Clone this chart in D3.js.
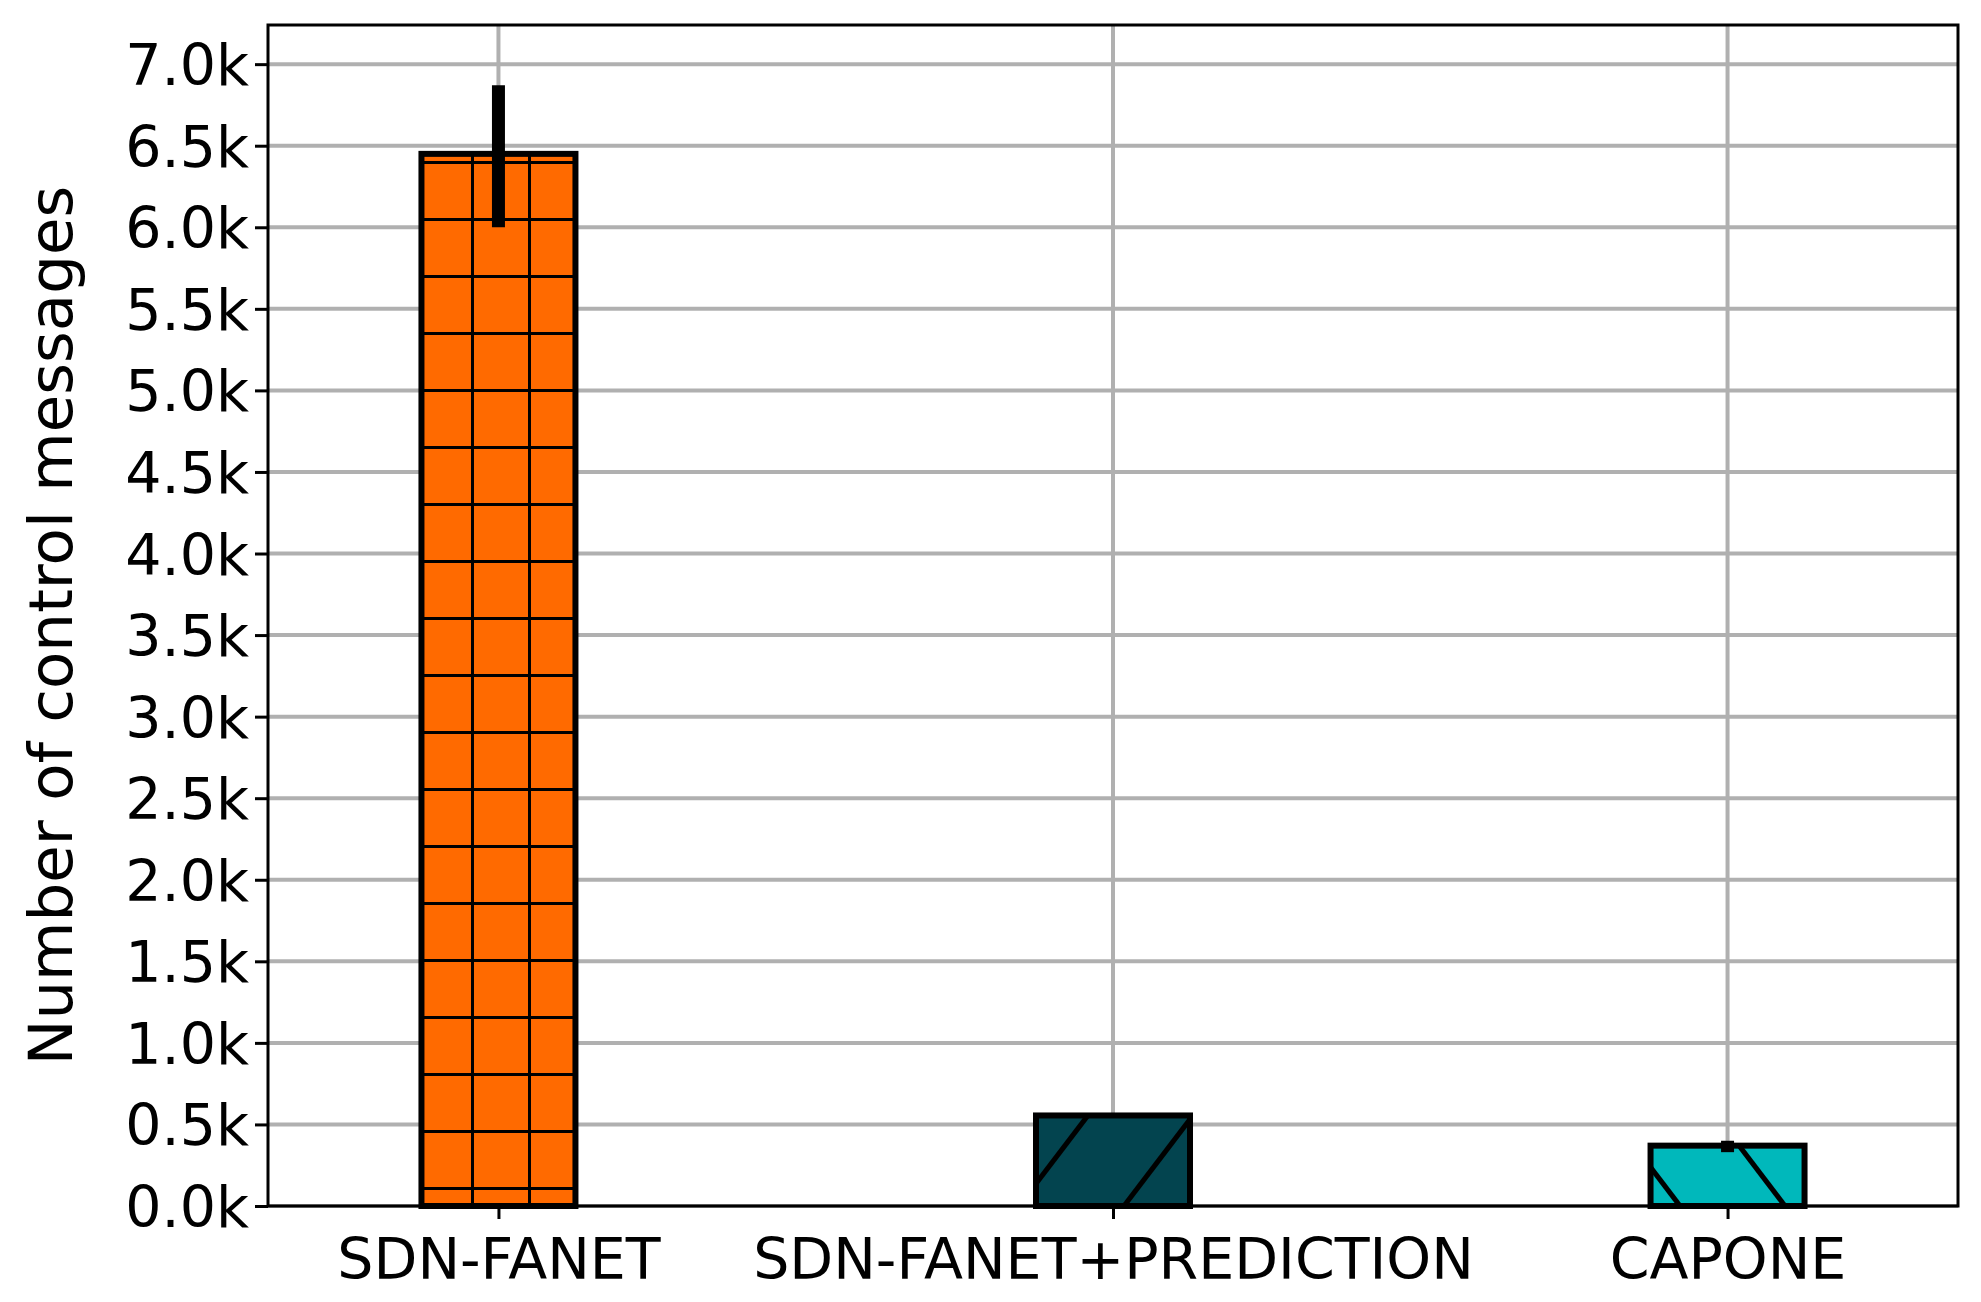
<!DOCTYPE html>
<html><head><meta charset="utf-8">
<script src="https://cdn.jsdelivr.net/npm/d3@7"></script>
<style>body{margin:0;background:#fff}</style></head>
<body><svg id="c" width="1981" height="1302"></svg>
<script>
const categories = ["SDN-FANET","SDN-FANET+PREDICTION","CAPONE"];
const values = [6450, 555, 370];
const errLow = [6000, 545, 330];
const errHigh = [6870, 560, 400];
const colors = ["#ff6a00","#03444f","#00b8bb"];
const yTicks = [0,500,1000,1500,2000,2500,3000,3500,4000,4500,5000,5500,6000,6500,7000];

const svg = d3.select("#c");
const L=268,R=1958,T=25,B=1206;
const x = d3.scaleLinear().domain([-0.375,2.375]).range([L,R]);
const y = d3.scaleLinear().domain([0,7240]).range([B,T]);
const bw = 154;

const defs = svg.append("defs");
const g=57;
const pg = defs.append("pattern").attr("id","grid").attr("patternUnits","userSpaceOnUse")
  .attr("width",g).attr("height",g).attr("x",471).attr("y",1187);
pg.append("rect").attr("width",g).attr("height",g).attr("fill",colors[0]);
pg.append("line").attr("x1",0).attr("x2",g).attr("y1",0).attr("y2",0).attr("stroke","#000").attr("stroke-width",6);
pg.append("line").attr("x1",0).attr("x2",0).attr("y1",0).attr("y2",g).attr("stroke","#000").attr("stroke-width",6);
function diag(id,col,dir,px){
  const w=105,h=138;
  const p=defs.append("pattern").attr("id",id).attr("patternUnits","userSpaceOnUse")
    .attr("width",w).attr("height",h).attr("x",px).attr("y",B);
  p.append("rect").attr("width",w).attr("height",h).attr("fill",col);
  const ln = dir>0 ? [0,h,w,0] : [0,0,w,h];
  [-w,0,w].forEach(o=>p.append("line").attr("x1",ln[0]+o).attr("y1",ln[1]).attr("x2",ln[2]+o).attr("y2",ln[3])
    .attr("stroke","#000").attr("stroke-width",5));
}
diag("d1",colors[1],1,1019);
diag("d2",colors[2],-1,1785);
const fills=["url(#grid)","url(#d1)","url(#d2)"];

// grid
svg.append("g").selectAll("line.h").data(yTicks).join("line")
  .attr("x1",L).attr("x2",R).attr("y1",d=>y(d)).attr("y2",d=>y(d))
  .attr("stroke","#b0b0b0").attr("stroke-width",4);
svg.append("g").selectAll("line.v").data(d3.range(3)).join("line")
  .attr("x1",d=>x(d)).attr("x2",d=>x(d)).attr("y1",T).attr("y2",B)
  .attr("stroke","#b0b0b0").attr("stroke-width",4);

// bars
svg.append("g").selectAll("rect").data(values).join("rect")
  .attr("x",(d,i)=>x(i)-bw/2).attr("width",bw)
  .attr("y",d=>y(d)).attr("height",d=>B-y(d))
  .attr("fill",(d,i)=>fills[i]).attr("stroke","#000").attr("stroke-width",6);
// error bars
svg.append("g").selectAll("line").data(values).join("line")
  .attr("x1",(d,i)=>x(i)).attr("x2",(d,i)=>x(i))
  .attr("y1",(d,i)=>y(errLow[i])).attr("y2",(d,i)=>y(errHigh[i]))
  .attr("stroke","#000").attr("stroke-width",13);

// axes
const fs="57px";
const ya = svg.append("g").attr("transform",`translate(${L},0)`)
  .call(d3.axisLeft(y).tickValues(yTicks).tickFormat(d=>(d/1000).toFixed(1)+"k").tickSizeOuter(0).tickSize(13).tickPadding(6));
const xa = svg.append("g").attr("transform",`translate(0,${B})`)
  .call(d3.axisBottom(x).tickValues([0,1,2]).tickFormat(i=>categories[i]).tickSizeOuter(0).tickSize(13).tickPadding(14));
[ya,xa].forEach(a=>{
  a.select(".domain").remove();
  a.selectAll(".tick line").attr("stroke","#000").attr("stroke-width",3);
  a.selectAll("text").attr("font-family","DejaVu Sans").attr("font-size",fs).attr("fill","#000");
});
ya.selectAll("text").attr("dy","0.36em");
xa.selectAll("text").attr("dy","0.8em");
svg.append("rect").attr("x",L).attr("y",T).attr("width",R-L).attr("height",B-T)
  .attr("fill","none").attr("stroke","#000").attr("stroke-width",3);
svg.append("text").attr("transform",`translate(72,${(T+B)/2+10}) rotate(-90)`)
  .attr("text-anchor","middle").attr("font-family","DejaVu Sans").attr("font-size","61px")
  .text("Number of control messages");
</script></body></html>
